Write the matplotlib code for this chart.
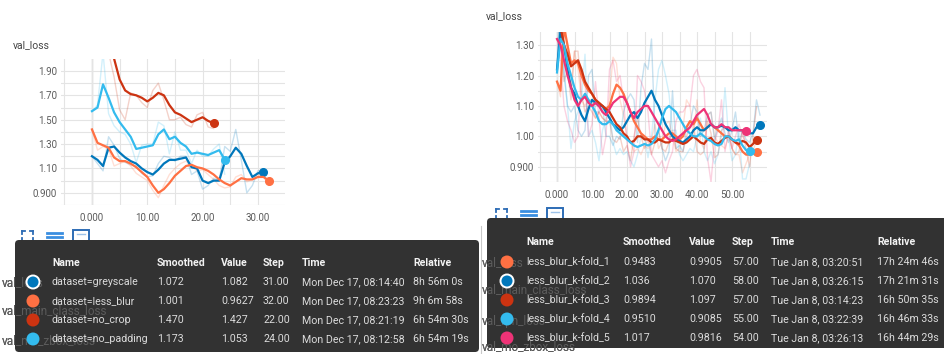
import numpy as np
import matplotlib
matplotlib.use("Agg")
import matplotlib.pyplot as plt
from matplotlib.patches import FancyBboxPatch, Circle, Rectangle

plt.rcParams['font.family'] = ['Roboto', 'DejaVu Sans']

W, H = 945, 354

# ---- left card: dataset runs ----
left_names = ['dataset=greyscale', 'dataset=less_blur', 'dataset=no_crop', 'dataset=no_padding']
left_colors = ['#0077bb', '#ff7043', '#cc3311', '#33bbee']
greyscale_smooth = [1.20, 1.17, 1.12, 1.27, 1.28, 1.23, 1.19, 1.16, 1.14, 1.10, 1.07, 1.05, 1.09, 1.14,
                    1.17, 1.17, 1.18, 1.19, 1.11, 1.10, 1.00, 0.98, 1.00, 1.00, 1.15, 1.20, 1.27, 1.22,
                    1.12, 1.03, 1.06, 1.072]
greyscale_raw = [1.20, 1.14, 1.08, 1.36, 1.29, 1.18, 1.15, 1.13, 1.12, 1.06, 1.03, 1.04, 1.14, 1.20,
                 1.19, 1.16, 1.20, 1.20, 1.05, 1.08, 0.93, 0.96, 1.02, 1.00, 1.28, 1.24, 1.42, 1.17,
                 0.90, 0.96, 1.08, 1.082]
less_blur_smooth = [1.42, 1.31, 1.29, 1.27, 1.19, 1.16, 1.16, 1.14, 1.11, 1.07, 1.03, 0.96, 0.90, 0.93,
                    0.98, 1.04, 1.08, 1.12, 1.13, 1.11, 1.10, 1.08, 1.05, 1.01, 0.98, 0.96, 0.99, 1.02,
                    1.01, 1.01, 1.03, 1.03, 1.001]
less_blur_raw = [1.42, 1.25, 1.28, 1.26, 1.12, 1.14, 1.16, 1.12, 1.06, 1.03, 1.00, 0.92, 0.86, 0.96,
                 1.05, 1.10, 1.14, 1.16, 1.12, 1.08, 1.09, 1.05, 1.01, 0.96, 0.94, 0.95, 1.03, 1.05,
                 0.99, 1.01, 1.05, 1.03, 0.9627]
no_crop_smooth = [2.50, 2.40, 2.30, 2.15, 2.00, 1.83, 1.74, 1.71, 1.70, 1.68, 1.65, 1.68, 1.72, 1.70,
                  1.62, 1.56, 1.54, 1.51, 1.48, 1.50, 1.52, 1.49, 1.470]
no_crop_raw = [2.50, 2.35, 2.20, 2.05, 1.85, 1.58, 1.50, 1.72, 1.70, 1.64, 1.60, 1.74, 1.80, 1.66,
               1.50, 1.50, 1.52, 1.46, 1.44, 1.54, 1.56, 1.44, 1.427]
no_padding_smooth = [1.57, 1.60, 1.79, 1.68, 1.56, 1.48, 1.42, 1.36, 1.26, 1.27, 1.28, 1.29, 1.38, 1.42,
                     1.34, 1.36, 1.31, 1.28, 1.22, 1.23, 1.22, 1.21, 1.23, 1.25, 1.173]
no_padding_raw = [1.57, 1.62, 2.05, 1.55, 1.45, 1.40, 1.38, 1.30, 1.15, 1.29, 1.30, 1.30, 1.48, 1.45,
                  1.22, 1.40, 1.25, 1.25, 1.14, 1.25, 1.20, 1.20, 1.26, 1.30, 1.053]
left_smooth = [greyscale_smooth, less_blur_smooth, no_crop_smooth, no_padding_smooth]
left_raw = [greyscale_raw, less_blur_raw, no_crop_raw, no_padding_raw]
left_smoothed_txt = ['1.072', '1.001', '1.470', '1.173']
left_value_txt = ['1.082', '0.9627', '1.427', '1.053']
left_step_txt = ['31.00', '32.00', '22.00', '24.00']
left_time_txt = ['Mon Dec 17, 08:14:40', 'Mon Dec 17, 08:23:23', 'Mon Dec 17, 08:21:19',
                 'Mon Dec 17, 08:12:58']
left_rel_txt = ['8h 56m 0s', '9h 6m 58s', '6h 54m 30s', '6h 54m 19s']
left_xticks = [0, 10, 20, 30]
left_xlabels = ['0.000', '10.00', '20.00', '30.00']
left_xminor = [-5, 5, 15, 25]
left_yticks = [0.9, 1.1, 1.3, 1.5, 1.7, 1.9]
left_ylabels = ['0.900', '1.10', '1.30', '1.50', '1.70', '1.90']
left_yminor = [0.8, 1.0, 1.2, 1.4, 1.6, 1.8]

# ---- right card: k-fold runs ----
right_names = ['less_blur_k-fold_1', 'less_blur_k-fold_2', 'less_blur_k-fold_3',
               'less_blur_k-fold_4', 'less_blur_k-fold_5']
right_colors = ['#ff7043', '#0077bb', '#cc3311', '#33bbee', '#ee3377']
fold1_smooth = [1.18, 1.15, 1.36, 1.30, 1.24, 1.25, 1.24, 1.20, 1.17, 1.15, 1.14, 1.12, 1.11, 1.10,
                1.09, 1.10, 1.14, 1.17, 1.16, 1.14, 1.11, 1.08, 1.05, 1.03, 1.01, 1.00, 0.99, 0.99,
                1.00, 0.99, 0.99, 1.00, 1.01, 1.01, 1.00, 0.99, 1.00, 1.03, 1.05, 1.04, 1.06, 1.04,
                1.02, 1.03, 1.04, 1.03, 1.02, 1.01, 1.00, 1.00, 0.99, 0.98, 0.97, 0.95, 0.94, 0.94,
                0.945, 0.9483]
fold1_raw = [1.18, 1.13, 1.50, 1.22, 1.16, 1.28, 1.22, 1.12, 1.10, 1.12, 1.12, 1.06, 1.08, 1.06,
             1.05, 1.13, 1.26, 1.24, 1.12, 1.07, 1.00, 0.98, 0.95, 0.96, 0.94, 0.97, 0.96, 0.99,
             1.04, 0.96, 0.98, 1.04, 1.05, 1.00, 0.95, 0.96, 1.03, 1.12, 1.10, 1.00, 1.12, 0.98,
             0.96, 1.07, 1.08, 1.00, 0.98, 0.97, 0.96, 1.00, 0.96, 0.94, 0.94, 0.88, 0.91, 0.94,
             0.95, 0.9905]
fold2_smooth = [1.22, 1.35, 1.30, 1.22, 1.16, 1.14, 1.10, 1.07, 1.05, 1.09, 1.12, 1.11, 1.10, 1.10,
                1.08, 1.06, 1.04, 1.03, 1.02, 1.03, 1.05, 1.07, 1.08, 1.06, 1.08, 1.11, 1.13, 1.15,
                1.12, 1.10, 1.07, 1.04, 1.02, 1.00, 0.99, 0.985, 0.98, 0.99, 1.00, 1.02, 1.03, 1.02,
                1.02, 1.03, 1.04, 1.03, 1.03, 1.035, 1.03, 1.02, 1.02, 1.03, 1.02, 1.02, 1.015, 1.01,
                1.01, 1.03, 1.036]
fold2_raw = [1.22, 1.50, 1.22, 1.10, 1.08, 1.10, 1.02, 1.00, 1.02, 1.20, 1.22, 1.08, 1.08, 1.10,
             1.00, 1.00, 0.97, 1.00, 0.99, 1.08, 1.12, 1.14, 1.12, 0.98, 1.16, 1.24, 1.22, 1.32,
             1.00, 1.02, 0.96, 0.92, 0.95, 1.15, 0.96, 0.97, 0.95, 1.03, 1.04, 1.10, 1.08, 1.00,
             1.02, 1.07, 1.08, 0.99, 1.03, 1.06, 1.01, 0.98, 1.02, 1.08, 0.98, 1.02, 0.99, 0.98,
             1.01, 1.12, 1.070]
fold3_smooth = [1.40, 1.36, 1.30, 1.27, 1.23, 1.24, 1.25, 1.22, 1.18, 1.16, 1.14, 1.12, 1.11, 1.10,
                1.09, 1.08, 1.06, 1.04, 1.03, 1.01, 1.00, 0.98, 0.985, 1.00, 1.00, 0.99, 0.99, 0.98,
                0.98, 0.99, 0.985, 0.98, 0.98, 0.99, 0.985, 0.98, 0.975, 0.98, 0.99, 1.00, 0.99, 0.98,
                0.975, 0.99, 0.995, 0.98, 0.975, 0.985, 0.995, 1.00, 0.99, 0.98, 0.975, 0.985, 0.98,
                0.965, 0.975, 0.9894]
fold3_raw = [1.40, 1.30, 1.18, 1.22, 1.12, 1.28, 1.28, 1.14, 1.08, 1.10, 1.08, 1.06, 1.08, 1.06,
             1.05, 1.05, 0.99, 0.98, 1.00, 0.95, 0.97, 0.92, 1.00, 1.06, 1.00, 0.96, 0.99, 0.94,
             0.98, 1.02, 0.96, 0.95, 0.98, 1.02, 0.96, 0.95, 0.95, 1.00, 1.03, 1.04, 0.95, 0.94,
             0.95, 1.05, 1.01, 0.93, 0.94, 1.02, 1.03, 1.02, 0.96, 0.94, 0.95, 1.02, 0.96, 0.90,
             1.00, 1.097]
fold4_smooth = [1.21, 1.32, 1.30, 1.24, 1.20, 1.16, 1.13, 1.12, 1.14, 1.12, 1.10, 1.08, 1.05, 1.04,
                1.04, 1.05, 1.04, 1.02, 1.01, 1.00, 0.99, 0.98, 0.97, 0.965, 0.97, 0.975, 0.97, 0.975,
                0.99, 1.02, 1.06, 1.09, 1.10, 1.09, 1.08, 1.06, 1.04, 1.02, 1.01, 1.00, 1.00, 1.01,
                1.00, 0.99, 0.985, 0.975, 0.97, 0.975, 1.00, 1.00, 0.99, 0.985, 0.99, 0.97, 0.955,
                0.9510]
fold4_raw = [1.21, 1.45, 1.20, 1.10, 0.96, 1.05, 1.08, 1.12, 1.27, 1.00, 1.02, 0.98, 0.92, 1.02,
             1.06, 1.10, 0.98, 0.94, 0.96, 0.94, 0.95, 0.92, 0.90, 0.94, 1.00, 1.00, 0.93, 1.00,
             1.12, 1.22, 1.25, 1.20, 1.14, 1.02, 1.02, 0.94, 0.92, 0.94, 0.96, 0.95, 1.00, 1.06,
             0.95, 0.92, 0.95, 0.91, 0.94, 1.00, 1.16, 1.00, 0.92, 0.94, 1.02, 0.86, 0.86, 0.9085]
fold5_smooth = [1.32, 1.30, 1.25, 1.20, 1.16, 1.12, 1.10, 1.12, 1.13, 1.11, 1.10, 1.11, 1.10, 1.08,
                1.07, 1.09, 1.11, 1.12, 1.13, 1.13, 1.11, 1.08, 1.06, 1.08, 1.09, 1.10, 1.10, 1.08,
                1.06, 1.04, 1.02, 1.00, 0.99, 0.985, 0.99, 1.00, 1.01, 1.02, 1.03, 1.05, 1.07, 1.08,
                1.09, 1.07, 1.04, 1.03, 1.03, 1.04, 1.03, 1.03, 1.02, 1.02, 1.02, 1.02, 1.017]
fold5_raw = [1.32, 1.25, 1.10, 1.05, 1.02, 0.98, 1.00, 1.22, 1.18, 1.00, 1.04, 1.18, 1.06, 0.94,
             1.00, 1.22, 1.25, 1.18, 1.20, 1.12, 0.98, 0.90, 0.95, 1.20, 1.18, 1.15, 1.08, 0.94,
             0.92, 0.90, 0.92, 0.88, 0.92, 0.95, 1.05, 1.08, 1.08, 1.10, 1.10, 1.20, 1.22, 1.18,
             1.16, 0.93, 0.85, 0.98, 1.02, 1.12, 0.95, 1.02, 0.96, 1.00, 1.04, 1.00, 0.9816]
right_smooth = [fold1_smooth, fold2_smooth, fold3_smooth, fold4_smooth, fold5_smooth]
right_raw = [fold1_raw, fold2_raw, fold3_raw, fold4_raw, fold5_raw]
right_smoothed_txt = ['0.9483', '1.036', '0.9894', '0.9510', '1.017']
right_value_txt = ['0.9905', '1.070', '1.097', '0.9085', '0.9816']
right_step_txt = ['57.00', '58.00', '57.00', '55.00', '54.00']
right_time_txt = ['Tue Jan 8, 03:20:51', 'Tue Jan 8, 03:26:15', 'Tue Jan 8, 03:14:23',
                  'Tue Jan 8, 03:22:39', 'Tue Jan 8, 03:26:13']
right_rel_txt = ['17h 24m 46s', '17h 21m 31s', '16h 50m 35s', '16h 46m 33s', '16h 44m 29s']
right_xticks = [0, 10, 20, 30, 40, 50]
right_xlabels = ['0.000', '10.00', '20.00', '30.00', '40.00', '50.00']
right_xminor = [-5, 5, 15, 25, 35, 45, 55]
right_yticks = [0.9, 1.0, 1.1, 1.2, 1.3]
right_ylabels = ['0.900', '1.00', '1.10', '1.20', '1.30']
right_yminor = [0.85, 0.95, 1.05, 1.15, 1.25]

fig = plt.figure(figsize=(W / 100, H / 100), dpi=100)


def draw_chart(box, xlim, ylim, xt, xtl, xmin, yt, ytl, ymin, smooth, raw, colors):
    l, t, r, b = box
    ax = fig.add_axes([l / W, 1 - b / H, (r - l) / W, (b - t) / H])
    for rw, c in zip(raw, colors):
        ax.plot(range(len(rw)), rw, color=c, lw=1.0, alpha=0.22)
    for s, c in zip(smooth, colors):
        ax.plot(range(len(s)), s, color=c, lw=1.6)
        ax.plot(len(s) - 1, s[-1], 'o', color=c, ms=5.5, clip_on=False)
    ax.set_xlim(*xlim)
    ax.set_ylim(*ylim)
    ax.set_xticks(xt)
    ax.set_xticklabels(xtl)
    ax.set_xticks(xmin, minor=True)
    ax.set_yticks(yt)
    ax.set_yticklabels(ytl)
    ax.set_yticks(ymin, minor=True)
    ax.grid(True, which='both', color='#e4e4e4', lw=0.8)
    ax.set_axisbelow(True)
    ax.axvline(0, color='#a8a8a8', lw=0.9, zorder=0.5)
    for sp in ax.spines.values():
        sp.set_visible(False)
    ax.tick_params(which='both', length=0, labelsize=7, colors='#5a5a5a')
    ax.tick_params(axis='x', pad=6)
    ax.tick_params(axis='y', pad=3)
    return ax


draw_chart((61, 59, 285, 205), (-5.6, 34.9), (0.80, 1.998),
           left_xticks, left_xlabels, left_xminor, left_yticks, left_ylabels, left_yminor,
           left_smooth, left_raw, left_colors)
draw_chart((538, 32, 767, 182), (-5.43, 60.0), (0.851, 1.343),
           right_xticks, right_xlabels, right_xminor, right_yticks, right_ylabels, right_yminor,
           right_smooth, right_raw, right_colors)

# overlay in pixel coordinates for titles, icons and the tooltip tables
ov = fig.add_axes([0, 0, 1, 1])
ov.set_xlim(0, W)
ov.set_ylim(H, 0)
ov.axis('off')
ov.patch.set_alpha(0)

ov.text(13, 45, 'val_loss', fontsize=7.5, color='#444444', va='center')
ov.text(486, 16, 'val_loss', fontsize=7.5, color='#444444', va='center')
ov.plot([481, 481], [226, 354], color='#c8c8c8', lw=0.8)


def icons(x0, yc):
    blue = '#2d6cb5'
    # fit-to-data brackets
    for dx, dy in [(0, -5), (11, -5), (0, 5), (11, 5)]:
        sx = 1 if dx == 0 else -1
        sy = 1 if dy < 0 else -1
        ov.plot([x0 + dx, x0 + dx + 3 * sx], [yc + dy, yc + dy], color=blue, lw=1.3)
        ov.plot([x0 + dx, x0 + dx], [yc + dy, yc + dy + 3 * sy], color=blue, lw=1.3)
    # list lines
    for dy in (-3, 1, 5):
        ov.plot([x0 + 25, x0 + 40], [yc + dy, yc + dy], color='#3a8ee0', lw=2.0)
    # image frame
    ov.add_patch(Rectangle((x0 + 51, yc - 6), 16, 12, fill=False, ec=blue, lw=1.4))
    ov.plot([x0 + 55, x0 + 63], [yc - 2, yc - 2], color='#9ec3ea', lw=1.0)


icons(22, 236)
icons(496, 214)


def table(box, cx, cols, header_y, row_y, names, colors, sel, cells):
    l, t, r, b = box
    card = FancyBboxPatch((l, t), r - l, b - t, boxstyle='round,pad=0,rounding_size=4',
                          fc='#323232', ec='none', zorder=2)
    ov.add_patch(card)
    heads = ['Name', 'Smoothed', 'Value', 'Step', 'Time', 'Relative']
    for x, hd in zip(cols, heads):
        ov.text(x, header_y, hd, fontsize=7.6, fontweight='bold', color='#f2f2f2',
                va='center', zorder=4)
    for i, y in enumerate(row_y):
        if i == sel:
            ov.add_patch(Circle((cx, y), 6.5, fc=colors[i], ec='white', lw=1.4, zorder=4))
        else:
            ov.add_patch(Circle((cx, y), 6.5, fc=colors[i], ec='none', zorder=4))
        row = [names[i]] + [c[i] for c in cells]
        for x, txt in zip(cols, row):
            ov.text(x, y, txt, fontsize=7.7, color='#dcdcdc', va='center', zorder=4)
    return card


def ghost(x, y, txt, card):
    # card titles of the page underneath, partly showing through the tooltip
    ov.text(x, y, txt, fontsize=8.5, color='#555555', va='center', zorder=1)
    g = ov.text(x, y, txt, fontsize=8.5, color='#5c5c5c', va='center', zorder=3)
    g.set_clip_path(card)


left_card = table((15, 240, 479, 352), 33, [52, 157, 221, 263, 302, 413], 263,
                  [282, 301, 320, 339], left_names, left_colors, 0,
                  [left_smoothed_txt, left_value_txt, left_step_txt, left_time_txt, left_rel_txt])
for gy, gt in [(283, 'val_loss'), (311, 'val_main_class_loss'), (341, 'val_mo_zbox_loss')]:
    ghost(2, gy, gt, left_card)

right_card = table((487, 218, 950, 348), 507, [526, 623, 689, 732, 771, 877], 242,
                   [262, 281, 300, 319, 338], right_names, right_colors, 1,
                   [right_smoothed_txt, right_value_txt, right_step_txt, right_time_txt, right_rel_txt])
for gy, gt in [(263, 'val_loss'), (290, 'val_main_class_loss'), (321, 'val_rpn_loss'),
               (347, 'val_mo_zbox_loss')]:
    ghost(482, gy, gt, right_card)

fig.savefig('out.png', dpi=100)
